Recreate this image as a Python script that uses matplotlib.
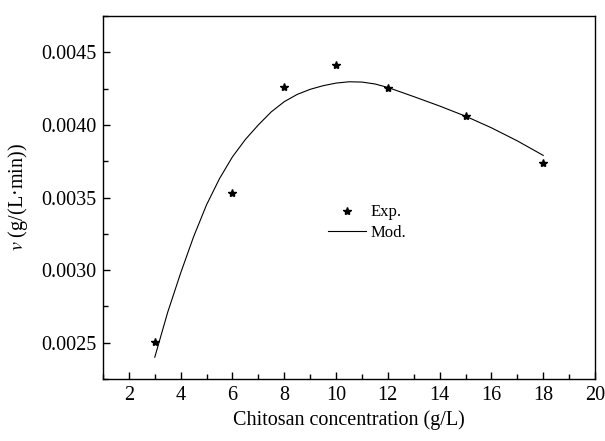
import matplotlib
matplotlib.use('Agg')
import matplotlib.pyplot as plt
from matplotlib.ticker import MultipleLocator

plt.rcParams['font.family'] = ['Liberation Serif', 'DejaVu Serif']
plt.rcParams['mathtext.fontset'] = 'stix'

# measured points
conc_exp = [3, 6, 8, 10, 12, 15, 18]
v_exp = [0.002507, 0.003528, 0.004261, 0.004410, 0.004252, 0.004059, 0.003737]

# model curve
conc_mod = [3.0, 3.5, 4.0, 4.5, 5.0, 5.5, 6.0, 6.5, 7.0, 7.5, 8.0, 8.5,
            9.0, 9.5, 10.0, 10.5, 11.0, 11.5, 12.0, 13.0, 14.0, 15.0,
            16.0, 17.0, 18.0]
v_mod = [0.00240, 0.00271, 0.00298, 0.00323, 0.00345, 0.00363, 0.00378,
         0.00390, 0.00400, 0.00409, 0.00416, 0.00421, 0.004245, 0.00427,
         0.004288, 0.004297, 0.004295, 0.004282, 0.004258, 0.004195,
         0.00413, 0.00406, 0.00398, 0.00389, 0.00379]

fig = plt.figure(figsize=(6.05, 4.41), dpi=100)
ax = fig.add_axes([0.1702, 0.1406, 0.8133, 0.8231])

ax.plot(conc_exp, v_exp, linestyle='none', marker='*', color='black',
        markersize=6, label='Exp.')
ax.plot(conc_mod, v_mod, color='black', linewidth=0.8, label='Mod.')

ax.set_xlim(1, 20)
ax.set_ylim(0.00225, 0.00475)
ax.xaxis.set_major_locator(MultipleLocator(2))
ax.xaxis.set_minor_locator(MultipleLocator(1))
ax.yaxis.set_major_locator(MultipleLocator(0.0005))
ax.yaxis.set_minor_locator(MultipleLocator(0.00025))
ax.yaxis.set_major_formatter(plt.FormatStrFormatter('%.4f'))

ax.tick_params(which='both', direction='in', top=False, right=False,
               labelsize=14.5, width=1.0)
ax.tick_params(which='major', length=5, pad=5)
ax.tick_params(which='minor', length=3.4)
for s in ax.spines.values():
    s.set_linewidth(1.0)

ax.set_xlabel('Chitosan concentration (g/L)', fontsize=14.5, labelpad=4)
ax.set_ylabel('$v$ (g/(L·min))', fontsize=14.5, labelpad=8)

ax.legend(loc='center', bbox_to_anchor=(0.537, 0.431), frameon=False,
          fontsize=12, handlelength=2.3, handletextpad=0.3,
          labelspacing=0.25, borderpad=0.2)

fig.savefig('out.png', dpi=100)
